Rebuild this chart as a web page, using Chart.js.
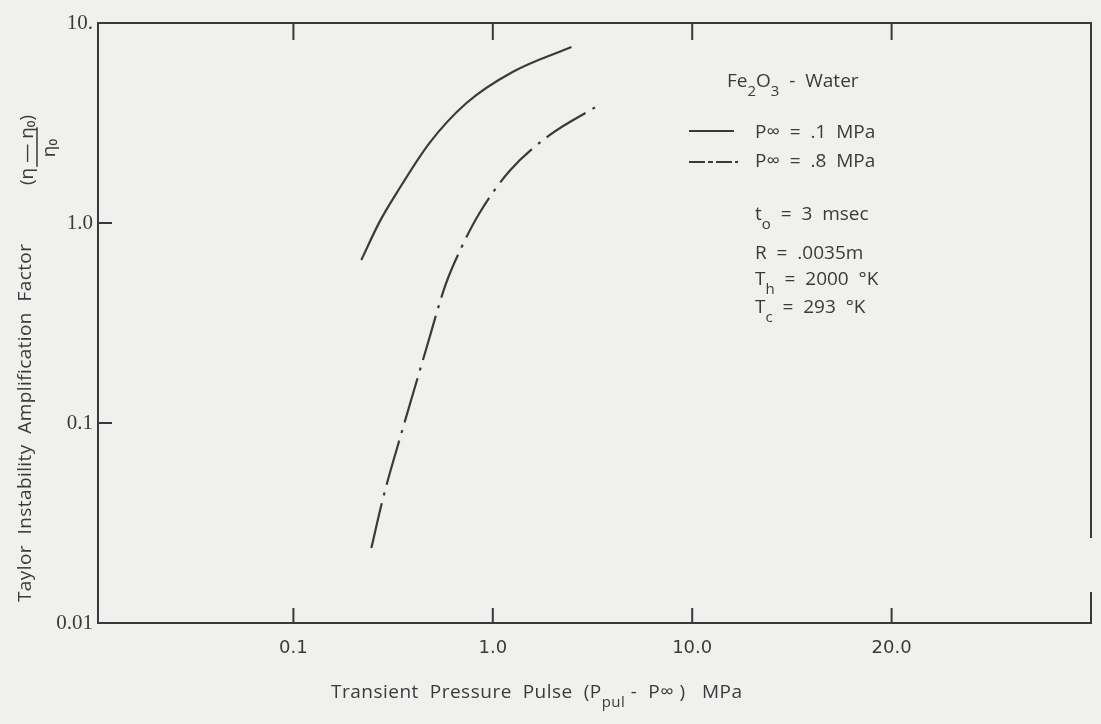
<!DOCTYPE html>
<html>
<head>
<meta charset="utf-8">
<script src="https://cdn.jsdelivr.net/npm/chart.js@4.4.1/dist/chart.umd.min.js"></script>
<style>
  html, body { margin: 0; padding: 0; background: #f0f0ee; }
  #wrap { width: 1101px; height: 724px; }
</style>
</head>
<body>
<div id="wrap"><canvas id="chart" width="1101" height="724"></canvas></div>
<script>
// Fe2O3 - water: Taylor instability amplification vs transient pressure pulse
const pulseTicks = [0.1, 1.0, 10.0, 20.0];
const pulseTickLabels = ['0.1', '1.0', '10.0', '20.0'];
const ampTicks = [0.01, 0.1, 1, 10];
const ampTickLabels = ['0.01', '0.1', '1.0', '10.'];

// P_inf = .1 MPa
const pulseLow = [0.219, 0.270, 0.329, 0.481, 0.738, 1.256, 2.48];
const ampLow = [0.653, 1.01, 1.41, 2.51, 3.98, 5.69, 7.59];

// P_inf = .8 MPa
const pulseHigh = [0.246, 0.280, 0.356, 0.459, 0.579, 0.697, 0.858, 1.213, 1.926, 3.276];
const ampHigh = [0.0237, 0.0412, 0.096, 0.227, 0.49, 0.756, 1.122, 1.82, 2.75, 3.80];

const ink = '#3a3a3a';
const sans = '"Open Sans", "DejaVu Sans", sans-serif';

// paper divisions are one per tick label, decades below 10 MPa
const toPos = p => Math.log10(p) + 1;
const series = (xs, ys) => xs.map((p, i) => ({ x: toPos(p), y: ys[i] }));

function drawSub(ctx, parts, x, y, size) {
  // parts: [text, 'sub'|null]
  parts.forEach(([t, kind]) => {
    if (kind === 'sub') {
      ctx.font = `${Math.round(size * 0.8)}px ${sans}`;
      ctx.fillText(t, x, y + size * 0.45);
    } else {
      ctx.font = `${size}px ${sans}`;
      ctx.fillText(t, x, y);
    }
    x += ctx.measureText(t).width;
  });
  return x;
}

const framePlugin = {
  id: 'frame',
  afterDraw(chart) {
    const { ctx, chartArea: a, scales: { x, y } } = chart;
    ctx.save();
    ctx.strokeStyle = ink;
    ctx.fillStyle = ink;
    ctx.lineWidth = 2;
    ctx.lineCap = 'square';

    // plot frame, right side broken near the bottom
    ctx.beginPath();
    ctx.moveTo(a.right, a.bottom - 86);
    ctx.lineTo(a.right, a.top);
    ctx.lineTo(a.left, a.top);
    ctx.lineTo(a.left, a.bottom);
    ctx.lineTo(a.right, a.bottom);
    ctx.lineTo(a.right, a.bottom - 30);
    ctx.stroke();

    // inward tick marks
    ctx.beginPath();
    pulseTicks.forEach((v, i) => {
      const px = x.getPixelForValue(i);
      ctx.moveTo(px, a.bottom); ctx.lineTo(px, a.bottom - 14);
      ctx.moveTo(px, a.top); ctx.lineTo(px, a.top + 16);
    });
    ampTicks.slice(1, 3).forEach(v => {
      const py = y.getPixelForValue(v);
      ctx.moveTo(a.left, py); ctx.lineTo(a.left + 13, py);
    });
    ctx.stroke();

    // legend
    ctx.textBaseline = 'alphabetic';
    ctx.textAlign = 'left';
    const fs = 19;
    drawSub(ctx, [['Fe', null], ['2', 'sub'], ['O', null], ['3', 'sub'], ['  -  Water', null]], 727, 87, fs);

    ctx.lineWidth = 2;
    ctx.beginPath();
    ctx.moveTo(690, 131); ctx.lineTo(733, 131);
    ctx.stroke();
    drawSub(ctx, [['P\u221E  =  .1  MPa', null]], 755, 138, fs);

    ctx.setLineDash([14, 5, 3, 5]);
    ctx.beginPath();
    ctx.moveTo(690, 162); ctx.lineTo(737, 162);
    ctx.stroke();
    ctx.setLineDash([]);
    drawSub(ctx, [['P\u221E  =  .8  MPa', null]], 755, 167, fs);

    drawSub(ctx, [['t', null], ['o', 'sub'], ['  =  3  msec', null]], 755, 220, fs);
    drawSub(ctx, [['R  =  .0035m', null]], 755, 259, fs);
    drawSub(ctx, [['T', null], ['h', 'sub'], ['  =  2000  \u00B0K', null]], 755, 285, fs);
    drawSub(ctx, [['T', null], ['c', 'sub'], ['  =  293  \u00B0K', null]], 755, 313, fs);

    // x axis title
    ctx.letterSpacing = '0.5px';
    drawSub(ctx, [['Transient  Pressure  Pulse  (P', null], ['pul', 'sub'], [' -  P\u221E )   MPa', null]], 331, 698, fs);

    // y axis title, rotated
    ctx.save();
    ctx.translate(31, 602);
    ctx.rotate(-Math.PI / 2);
    ctx.font = `${fs}px ${sans}`;
    ctx.letterSpacing = '0.4px';
    ctx.fillText('Taylor  Instability  Amplification  Factor', 0, 0);
    ctx.restore();

    // (eta - eta0) / eta0 beside the title
    ctx.save();
    ctx.translate(38, 150);
    ctx.rotate(-Math.PI / 2);
    ctx.textAlign = 'center';
    ctx.font = `${fs}px ${sans}`;
    ctx.letterSpacing = '0px';
    ctx.fillText('(\u03B7 \u2014 \u03B7\u2080)', 0, -5);
    ctx.fillText('\u03B7\u2080', 2, 17);
    ctx.lineWidth = 1.5;
    ctx.beginPath();
    ctx.moveTo(-16, -1); ctx.lineTo(22, -1);
    ctx.stroke();
    ctx.restore();

    ctx.restore();
  }
};

new Chart(document.getElementById('chart').getContext('2d'), {
  type: 'line',
  data: {
    datasets: [
      {
        label: 'P\u221E = .1 MPa',
        data: series(pulseLow, ampLow),
        borderColor: ink,
        borderWidth: 2.2,
        pointRadius: 0,
        cubicInterpolationMode: 'monotone',
        fill: false
      },
      {
        label: 'P\u221E = .8 MPa',
        data: series(pulseHigh, ampHigh),
        borderColor: ink,
        borderWidth: 2.2,
        borderDash: [46, 8, 3, 8],
        pointRadius: 0,
        cubicInterpolationMode: 'monotone',
        fill: false
      }
    ]
  },
  options: {
    responsive: false,
    animation: false,
    layout: { padding: { top: 23, right: 10, left: 0, bottom: 0 } },
    plugins: {
      legend: { display: false },
      tooltip: { enabled: false }
    },
    scales: {
      x: {
        type: 'linear',
        min: -0.98,
        max: 4.0,
        afterBuildTicks: s => { s.ticks = pulseTicks.map((v, i) => ({ value: i })); },
        afterFit: s => { s.height = 101; },
        grid: { display: false, drawTicks: false },
        border: { display: false },
        ticks: {
          callback: (v, i) => pulseTickLabels[i],
          color: ink,
          font: { family: '"DejaVu Sans", sans-serif', size: 18 },
          padding: 15,
          maxRotation: 0,
          autoSkip: false
        }
      },
      y: {
        type: 'logarithmic',
        min: 0.01,
        max: 10,
        afterBuildTicks: s => { s.ticks = ampTicks.map(v => ({ value: v })); },
        afterFit: s => { s.width = 98; },
        grid: { display: false, drawTicks: false },
        border: { display: false },
        ticks: {
          callback: (v, i) => ampTickLabels[i],
          color: ink,
          font: { family: '"Liberation Serif", serif', size: 21 },
          padding: 5,
          autoSkip: false
        }
      }
    }
  },
  plugins: [framePlugin]
});
</script>
</body>
</html>
